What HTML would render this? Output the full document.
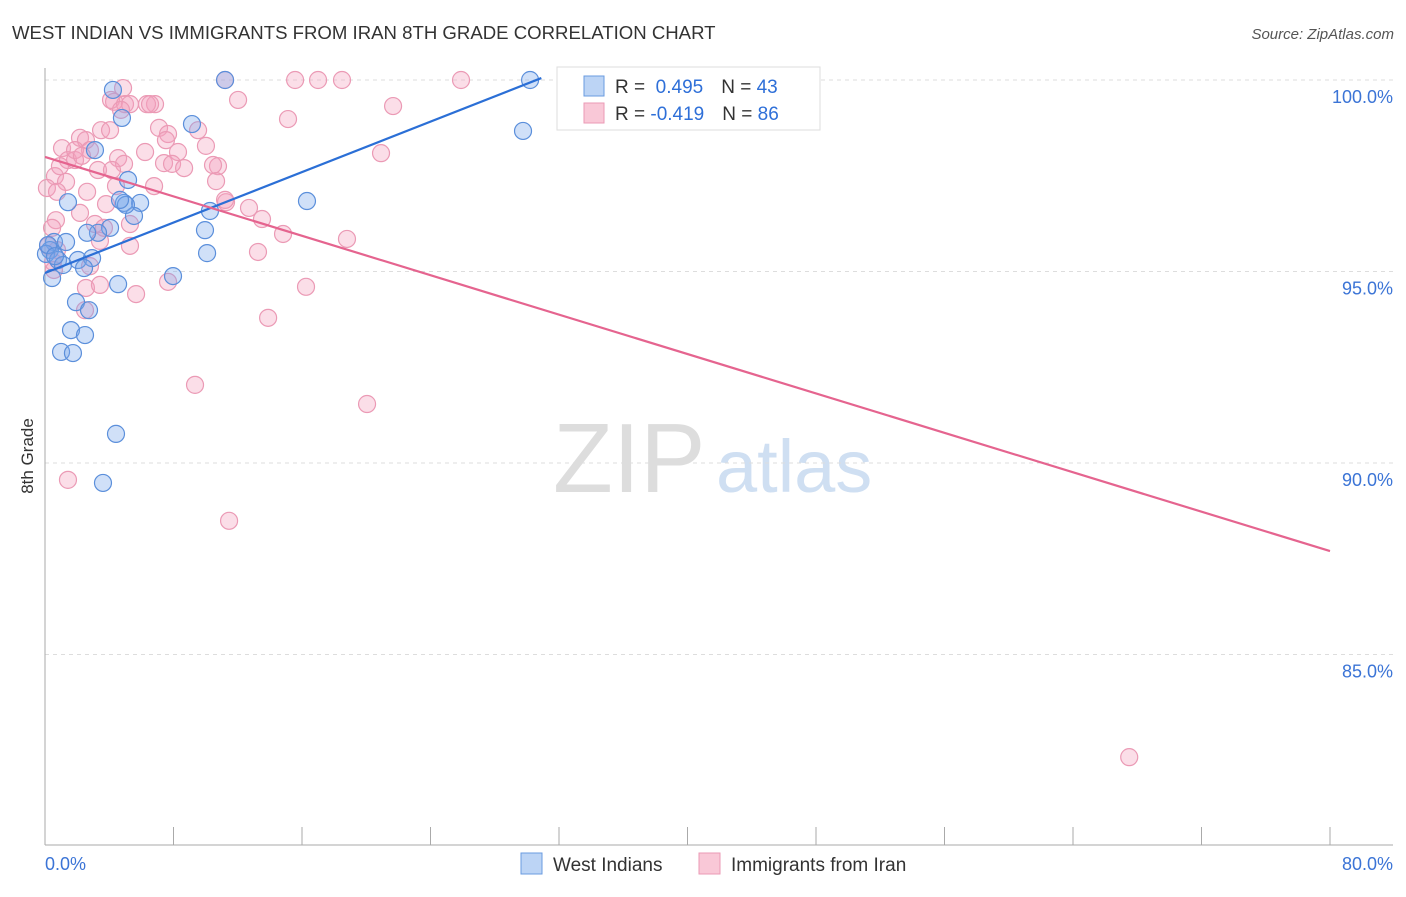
<!DOCTYPE html>
<html><head><meta charset="utf-8"><style>
body{margin:0;background:#fff;font-family:"Liberation Sans",sans-serif;}
svg text{font-family:"Liberation Sans",sans-serif;}
</style></head><body>
<svg id="chart" width="1406" height="892">
<text x="12" y="39" font-size="18.6" fill="#333">WEST INDIAN VS IMMIGRANTS FROM IRAN 8TH GRADE CORRELATION CHART</text>
<text x="1394" y="39" font-size="15" fill="#555" text-anchor="end" font-style="italic">Source: ZipAtlas.com</text>
<text x="33" y="456" font-size="17" fill="#333" transform="rotate(-90 33 456)" text-anchor="middle">8th Grade</text>
<g>
<text x="553" y="492" font-size="98" fill="#ddd" font-family="Liberation Serif, serif">ZIP</text>
<text x="716" y="492" font-size="74" fill="#cfdff2">atlas</text>
</g>
<g id="grid"></g><g id="pts"></g><g id="lines"></g>
<g>
<rect x="557" y="67" width="263" height="63" fill="#fff" stroke="#ddd"/>
<rect x="584" y="76" width="20" height="20" fill="#bcd4f5" stroke="#6a9be0"/>
<rect x="584" y="103" width="20" height="20" fill="#f9c8d7" stroke="#eb9ab5"/>
<text x="615" y="93" font-size="19" fill="#333">R = <tspan fill="#2e6fd8">&#160;0.495</tspan><tspan dx="18">N = </tspan><tspan fill="#2e6fd8">43</tspan></text>
<text x="615" y="120" font-size="19" fill="#333">R = <tspan fill="#2e6fd8">-0.419</tspan><tspan dx="18">N = </tspan><tspan fill="#2e6fd8">86</tspan></text>
</g>
<g>
<rect x="521" y="853" width="21" height="21" fill="#bcd4f5" stroke="#6a9be0"/>
<text x="553" y="871" font-size="19" fill="#333">West Indians</text>
<rect x="699" y="853" width="21" height="21" fill="#f9c8d7" stroke="#eb9ab5"/>
<text x="731" y="871" font-size="19" fill="#333">Immigrants from Iran</text>
</g>
</svg>
<script>
const yTicks=[100,95,90,85];
const yTickLabels=["100.0%","95.0%","90.0%","85.0%"];
const xTickLabels=["0.0%","80.0%"];
const blueX=[4.23,11.21,30.2,29.76,9.15,4.79,3.11,5.17,4.92,5.92,1.43,5.54,16.31,10.27,9.96,4.05,3.30,2.62,0.56,1.31,0.31,0.06,0.81,2.05,2.93,1.12,2.43,0.44,10.09,7.97,4.55,1.93,2.74,1.62,2.49,1.0,1.74,4.42,3.61,0.19,0.62,5.04,4.67];
const blueY=[99.74,100,100,98.67,98.85,99.01,98.17,97.39,96.79,96.79,96.81,96.45,96.84,96.58,96.08,96.14,96.01,96.01,95.77,95.77,95.56,95.46,95.30,95.30,95.35,95.17,95.09,94.83,95.48,94.88,94.67,94.20,93.99,93.47,93.34,92.90,92.87,90.76,89.48,95.69,95.40,96.74,96.87];
const pinkX=[11.21,15.57,17.0,18.49,25.9,4.86,4.30,4.11,4.98,5.29,6.85,12.02,21.67,4.73,15.13,7.10,9.53,3.49,7.66,2.18,2.55,1.06,6.23,8.28,10.02,20.92,1.43,1.87,4.55,4.92,3.30,4.17,7.41,7.91,8.66,10.77,0.62,1.31,4.42,6.79,10.65,0.12,0.75,2.62,3.80,11.27,12.70,2.18,0.68,3.11,5.29,13.51,0.44,14.82,3.42,5.29,18.80,13.26,0.19,0.5,2.8,2.55,7.66,16.25,5.67,0.56,2.49,13.89,9.34,20.05,1.43,11.46,67.5,3.67,0.93,2.8,1.87,2.3,4.05,6.35,6.54,7.53,10.46,0.75,3.42,11.21];
const pinkY=[100,100,100,100,100,99.79,99.43,99.48,99.37,99.37,99.37,99.48,99.32,99.22,98.98,98.75,98.69,98.69,98.59,98.49,98.43,98.22,98.12,98.12,98.28,98.09,97.91,97.91,97.96,97.81,97.65,97.65,97.83,97.81,97.70,97.75,97.49,97.34,97.23,97.23,97.36,97.18,97.08,97.08,96.76,96.81,96.66,96.53,96.34,96.24,96.24,96.37,96.14,95.98,95.80,95.67,95.85,95.51,95.67,95.25,95.14,94.57,94.73,94.60,94.41,95.04,93.99,93.79,92.04,91.54,89.56,88.49,82.32,96.14,97.75,98.17,98.17,98.02,98.69,99.37,99.37,98.43,97.78,95.56,94.65,96.87];
const blueTrend=[[0,94.96],[30.9,100.05]];
const pinkTrend=[[0,97.99],[80,87.7]];
const NS="http://www.w3.org/2000/svg";
const X=v=>45+v*(1285/80);
const Y=v=>80+(100-v)*38.3;
function mk(tag,attrs,parent){const e=document.createElementNS(NS,tag);for(const k in attrs)e.setAttribute(k,attrs[k]);parent.appendChild(e);return e;}
const grid=document.getElementById('grid');
yTicks.forEach((t,i)=>{
  const l=mk('line',{x1:45,x2:1393,y1:Y(t),y2:Y(t),stroke:'#ddd','stroke-dasharray':'4,4'},grid);
  
  
  const tx=mk('text',{x:1393,y:Y(t)+23,'font-size':18,fill:'#3b74d6','text-anchor':'end'},grid);
  tx.textContent=yTickLabels[i];
  
  
});
const ax=mk('line',{x1:45,x2:45,y1:68,y2:845,stroke:'#aaa'},grid);


const bx=mk('line',{x1:45,x2:1393,y1:845,y2:845,stroke:'#aaa'},grid);


for(let i=0;i<=10;i++){const t=mk('line',{x1:X(i*8),x2:X(i*8),y1:827,y2:845,stroke:'#aaa'},grid);
  
  }
[[0,'start'],[80,'end']].forEach((p,i)=>{const t=mk('text',{x:p[0]==0?45:1393,y:870,'font-size':18,fill:'#3b74d6','text-anchor':p[1]},grid);t.textContent=xTickLabels[i];
  
  });
const pts=document.getElementById('pts');
pinkX.forEach((x,i)=>{const c=mk('circle',{cx:X(x),cy:Y(pinkY[i]),r:8.5,fill:'rgba(244,160,188,0.35)',stroke:'#eb9ab5','stroke-width':1.2},pts);
  
  });
blueX.forEach((x,i)=>{const c=mk('circle',{cx:X(x),cy:Y(blueY[i]),r:8.5,fill:'rgba(120,165,235,0.35)',stroke:'#5b8fdb','stroke-width':1.2},pts);
  
  });
const lines=document.getElementById('lines');
const bl=mk('line',{x1:X(blueTrend[0][0]),y1:Y(blueTrend[0][1]),x2:X(blueTrend[1][0]),y2:Y(blueTrend[1][1]),stroke:'#2b6fd6','stroke-width':2.2},lines);


const pl=mk('line',{x1:X(pinkTrend[0][0]),y1:Y(pinkTrend[0][1]),x2:X(pinkTrend[1][0]),y2:Y(pinkTrend[1][1]),stroke:'#e5648f','stroke-width':2.2},lines);


</script>
</body></html>
